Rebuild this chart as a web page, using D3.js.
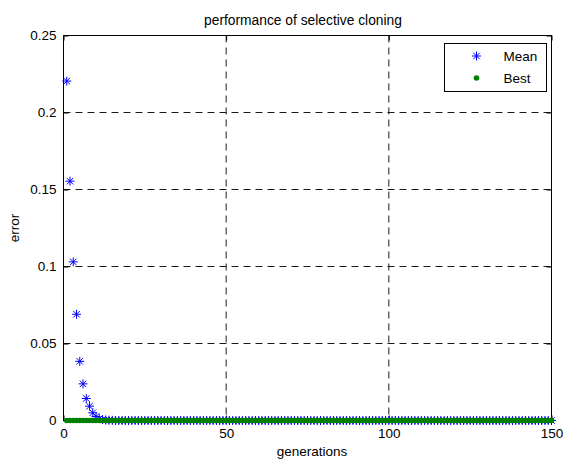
<!DOCTYPE html>
<html>
<head>
<meta charset="utf-8">
<script src="https://cdn.jsdelivr.net/npm/d3@7"></script>
<style>
  html, body { margin: 0; padding: 0; background: #fff; }
  svg { display: block; font-family: "Liberation Sans", Arial, sans-serif; }
</style>
</head>
<body>
<svg id="chart" width="563" height="461"></svg>
<script>
// Error per generation for the selective cloning run
const meanError = [
  0.2204, 0.1554, 0.1030, 0.0690, 0.0384, 0.0238, 0.0143, 0.0093, 0.0050, 0.0026,
  0.0012, 0.0006, 0.0003, 0.0002, 0.0001, 0, 0, 0, 0, 0,
  0, 0, 0, 0, 0, 0, 0, 0, 0, 0,
  0, 0, 0, 0, 0, 0, 0, 0, 0, 0,
  0, 0, 0, 0, 0, 0, 0, 0, 0, 0,
  0, 0, 0, 0, 0, 0, 0, 0, 0, 0,
  0, 0, 0, 0, 0, 0, 0, 0, 0, 0,
  0, 0, 0, 0, 0, 0, 0, 0, 0, 0,
  0, 0, 0, 0, 0, 0, 0, 0, 0, 0,
  0, 0, 0, 0, 0, 0, 0, 0, 0, 0,
  0, 0, 0, 0, 0, 0, 0, 0, 0, 0,
  0, 0, 0, 0, 0, 0, 0, 0, 0, 0,
  0, 0, 0, 0, 0, 0, 0, 0, 0, 0,
  0, 0, 0, 0, 0, 0, 0, 0, 0, 0,
  0, 0, 0, 0, 0, 0, 0, 0, 0, 0
];
const bestError = [
  0, 0, 0, 0, 0, 0, 0, 0, 0, 0,
  0, 0, 0, 0, 0, 0, 0, 0, 0, 0,
  0, 0, 0, 0, 0, 0, 0, 0, 0, 0,
  0, 0, 0, 0, 0, 0, 0, 0, 0, 0,
  0, 0, 0, 0, 0, 0, 0, 0, 0, 0,
  0, 0, 0, 0, 0, 0, 0, 0, 0, 0,
  0, 0, 0, 0, 0, 0, 0, 0, 0, 0,
  0, 0, 0, 0, 0, 0, 0, 0, 0, 0,
  0, 0, 0, 0, 0, 0, 0, 0, 0, 0,
  0, 0, 0, 0, 0, 0, 0, 0, 0, 0,
  0, 0, 0, 0, 0, 0, 0, 0, 0, 0,
  0, 0, 0, 0, 0, 0, 0, 0, 0, 0,
  0, 0, 0, 0, 0, 0, 0, 0, 0, 0,
  0, 0, 0, 0, 0, 0, 0, 0, 0, 0,
  0, 0, 0, 0, 0, 0, 0, 0, 0, 0
];
const xTicks = [0, 50, 100, 150];
const yTicks = [0, 0.05, 0.1, 0.15, 0.2, 0.25];
const yTickLabels = ["0", "0.05", "0.1", "0.15", "0.2", "0.25"];
const seriesNames = ["Mean", "Best"];

const svg = d3.select("#chart");
const plot = { left: 63.5, right: 551.5, top: 35.5, bottom: 420.5 };

const x = d3.scaleLinear().domain([0, 150]).range([plot.left, plot.right]);
const y = d3.scaleLinear().domain([0, 0.25]).range([plot.bottom, plot.top]);

// dashed grid
const grid = svg.append("g");
grid.selectAll("line.v").data(xTicks).join("line")
  .attr("x1", d => x(d)).attr("x2", d => x(d))
  .attr("y1", plot.top).attr("y2", plot.bottom)
  .attr("stroke", "#1a1a1a").attr("stroke-width", 1).attr("stroke-dasharray", "7,5");
grid.selectAll("line.h").data(yTicks).join("line")
  .attr("x1", plot.left).attr("x2", plot.right)
  .attr("y1", d => y(d)).attr("y2", d => y(d))
  .attr("stroke", "#1a1a1a").attr("stroke-width", 1).attr("stroke-dasharray", "7,5");

// axes with inward ticks on all four sides
const fmtY = d => yTickLabels[yTicks.indexOf(d)];
const styleAxis = g => {
  g.select(".domain").remove();
  g.selectAll("line").attr("stroke", "#000");
  g.selectAll("text").attr("fill", "#000").attr("font-size", 13.5)
    .attr("font-family", "'Liberation Sans', Arial, sans-serif");
};
svg.append("g").attr("transform", `translate(0,${plot.bottom})`)
  .call(d3.axisBottom(x).tickValues(xTicks).tickSize(-5).tickPadding(8))
  .call(styleAxis);
svg.append("g").attr("transform", `translate(0,${plot.top})`)
  .call(d3.axisTop(x).tickValues(xTicks).tickSize(-5).tickFormat(""))
  .call(styleAxis);
svg.append("g").attr("transform", `translate(${plot.left},0)`)
  .call(d3.axisLeft(y).tickValues(yTicks).tickFormat(fmtY).tickSize(-5).tickPadding(7))
  .call(styleAxis);
svg.append("g").attr("transform", `translate(${plot.right},0)`)
  .call(d3.axisRight(y).tickValues(yTicks).tickSize(-5).tickFormat(""))
  .call(styleAxis);

// axes box
svg.append("rect")
  .attr("x", plot.left).attr("y", plot.top)
  .attr("width", plot.right - plot.left).attr("height", plot.bottom - plot.top)
  .attr("fill", "none").attr("stroke", "#000").attr("stroke-width", 1);

// asterisk marker path
const star = (r) => {
  const d = r * 0.72;
  return `M${-r},0L${r},0M0,${-r}L0,${r}M${-d},${-d}L${d},${d}M${-d},${d}L${d},${-d}`;
};

const meanPts = meanError.map((v, i) => ({ g: i + 1, v }));
const bestPts = bestError.map((v, i) => ({ g: i + 1, v }));

svg.append("g").selectAll("path").data(meanPts).join("path")
  .attr("transform", d => `translate(${x(d.g)},${y(d.v)})`)
  .attr("d", star(4.5))
  .attr("fill", "none").attr("stroke", "#0000ff").attr("stroke-width", 1);

svg.append("g").selectAll("circle").data(bestPts).join("circle")
  .attr("cx", d => x(d.g)).attr("cy", d => y(d.v)).attr("r", 2.8)
  .attr("fill", "#008000");

// title and axis labels
svg.append("text").attr("x", 303).attr("y", 25)
  .attr("text-anchor", "middle").attr("font-size", 13.8).attr("fill", "#000")
  .text("performance of selective cloning");
svg.append("text").attr("x", 312).attr("y", 456)
  .attr("text-anchor", "middle").attr("font-size", 13.5).attr("fill", "#000")
  .text("generations");
svg.append("text")
  .attr("transform", `translate(19,${(plot.top + plot.bottom) / 2}) rotate(-90)`)
  .attr("text-anchor", "middle").attr("font-size", 13.5).attr("fill", "#000")
  .text("error");

// legend
const lg = svg.append("g").attr("transform", "translate(444.5,43.5)");
lg.append("rect").attr("width", 102).attr("height", 48)
  .attr("fill", "#fff").attr("stroke", "#000").attr("stroke-width", 1);
lg.append("path").attr("transform", "translate(32,12.5)").attr("d", star(4.5))
  .attr("fill", "none").attr("stroke", "#0000ff").attr("stroke-width", 1);
lg.append("circle").attr("cx", 32).attr("cy", 34.5).attr("r", 2.8).attr("fill", "#008000");
lg.selectAll("text").data(seriesNames).join("text")
  .attr("x", 59).attr("y", (d, i) => 17 + i * 22)
  .attr("font-size", 13.5).attr("fill", "#000")
  .text(d => d);
</script>
</body>
</html>
